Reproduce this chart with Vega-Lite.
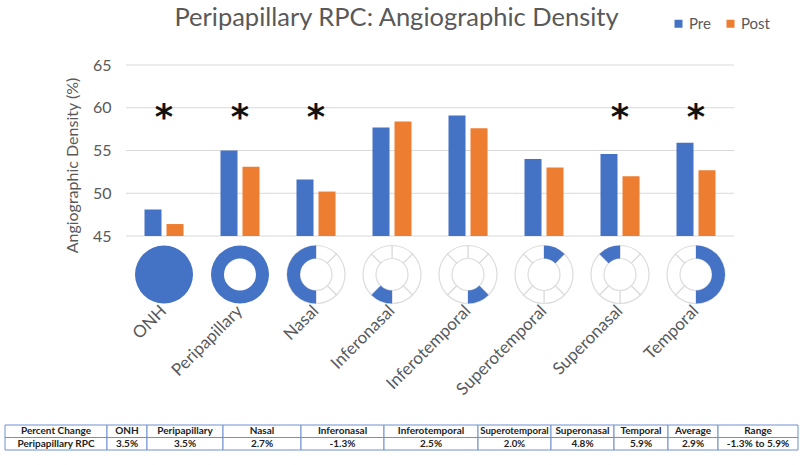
{
  "$schema": "https://vega.github.io/schema/vega-lite/v6.json",
  "background": "white",
  "padding": {"left": 4, "right": 3, "top": 5, "bottom": 4},
  "config": {"view": {"stroke": null}, "font": "Lato", "axis": {"labelFont": "Lato", "titleFont": "Lato"}},
  "title": {"text": "Peripapillary RPC: Angiographic Density", "font": "Lato", "fontSize": 25.5, "fontWeight": "normal", "color": "#595959", "anchor": "middle", "dx": -5, "offset": 0, "dy": 15},
  "datasets": {
    "bars": [
      {"cat": "ONH", "period": "Pre", "value": 48.1}, {"cat": "ONH", "period": "Post", "value": 46.4},
      {"cat": "Peripapillary", "period": "Pre", "value": 55.0}, {"cat": "Peripapillary", "period": "Post", "value": 53.1},
      {"cat": "Nasal", "period": "Pre", "value": 51.6}, {"cat": "Nasal", "period": "Post", "value": 50.2},
      {"cat": "Inferonasal", "period": "Pre", "value": 57.7}, {"cat": "Inferonasal", "period": "Post", "value": 58.4},
      {"cat": "Inferotemporal", "period": "Pre", "value": 59.1}, {"cat": "Inferotemporal", "period": "Post", "value": 57.6},
      {"cat": "Superotemporal", "period": "Pre", "value": 54.0}, {"cat": "Superotemporal", "period": "Post", "value": 53.0},
      {"cat": "Superonasal", "period": "Pre", "value": 54.6}, {"cat": "Superonasal", "period": "Post", "value": 52.0},
      {"cat": "Temporal", "period": "Pre", "value": 55.9}, {"cat": "Temporal", "period": "Post", "value": 52.7}
    ],
    "cats": [
      {"cat": "ONH", "sig": true, "hs": 0, "he": 360},
      {"cat": "Peripapillary", "sig": true, "hs": 0, "he": 360},
      {"cat": "Nasal", "sig": true, "hs": 180, "he": 360},
      {"cat": "Inferonasal", "sig": false, "hs": 180, "he": 225},
      {"cat": "Inferotemporal", "sig": false, "hs": 135, "he": 180},
      {"cat": "Superotemporal", "sig": false, "hs": 0, "he": 45},
      {"cat": "Superonasal", "sig": true, "hs": 315, "he": 360},
      {"cat": "Temporal", "sig": true, "hs": 0, "he": 180}
    ],
    "sectors": [
      {"s": 0, "e": 45, "cats": ["Nasal", "Inferonasal", "Inferotemporal", "Superotemporal", "Superonasal", "Temporal"]},
      {"s": 45, "e": 135, "cats": ["Nasal", "Inferonasal", "Inferotemporal", "Superotemporal", "Superonasal", "Temporal"]},
      {"s": 135, "e": 180, "cats": ["Nasal", "Inferonasal", "Inferotemporal", "Superotemporal", "Superonasal", "Temporal"]},
      {"s": 180, "e": 225, "cats": ["Nasal", "Inferonasal", "Inferotemporal", "Superotemporal", "Superonasal", "Temporal"]},
      {"s": 225, "e": 315, "cats": ["Nasal", "Inferonasal", "Inferotemporal", "Superotemporal", "Superonasal", "Temporal"]},
      {"s": 315, "e": 360, "cats": ["Nasal", "Inferonasal", "Inferotemporal", "Superotemporal", "Superonasal", "Temporal"]}
    ],
    "grid": [{"g": 45}, {"g": 50}, {"g": 55}, {"g": 60}, {"g": 65}],
    "table": [
      {"col": "Percent Change", "val": "Peripapillary RPC"},
      {"col": "ONH", "val": "3.5%"},
      {"col": "Peripapillary", "val": "3.5%"},
      {"col": "Nasal", "val": "2.7%"},
      {"col": "Inferonasal", "val": "-1.3%"},
      {"col": "Inferotemporal", "val": "2.5%"},
      {"col": "Superotemporal", "val": "2.0%"},
      {"col": "Superonasal", "val": "4.8%"},
      {"col": "Temporal", "val": "5.9%"},
      {"col": "Average", "val": "2.9%"},
      {"col": "Range", "val": "-1.3% to 5.9%"}
    ]
  },
  "resolve": {"scale": {"color": "independent"}, "legend": {"color": "independent"}},
  "spacing": 26,
  "vconcat": [
    {
      "width": 729,
      "height": 171,
      "layer": [
        {
          "data": {"name": "grid"},
          "mark": {"type": "rule", "color": "#d9d9d9", "strokeWidth": 1},
          "encoding": {
            "y": {"field": "g", "type": "quantitative"},
            "x": {"datum": "ONH", "type": "nominal", "bandPosition": 0},
            "x2": {"datum": "Temporal", "bandPosition": 1}
          }
        },
        {
          "data": {"name": "bars"},
          "mark": {"type": "bar"},
          "encoding": {
            "x": {
              "field": "cat", "type": "nominal", "sort": null,
              "scale": {"domain": ["ONH", "Peripapillary", "Nasal", "Inferonasal", "Inferotemporal", "Superotemporal", "Superonasal", "Temporal"], "range": [121, 729], "paddingInner": 0, "paddingOuter": 0},
              "axis": {"title": null, "labelAngle": -45, "labelAlign": "right", "labelBaseline": "middle", "labelPadding": 72, "ticks": false, "tickSize": 0, "domain": false, "grid": false, "labelFontSize": 17, "labelColor": "#595959", "labelFont": "Lato"}
            },
            "xOffset": {"field": "period", "type": "nominal", "sort": ["Pre", "Post"], "scale": {"paddingInner": 0.227, "paddingOuter": 0.84}},
            "y": {
              "field": "value", "type": "quantitative",
              "scale": {"domain": [45, 65], "zero": false, "nice": false},
              "axis": {"values": [45, 50, 55, 60, 65], "grid": false, "domain": false, "ticks": false, "offset": -121, "labelPadding": 15, "labelFontSize": 16, "labelColor": "#595959", "labelFont": "Lato", "title": "Angiographic Density (%)", "titleFontSize": 16, "titleFontWeight": "normal", "titleColor": "#595959", "titleFont": "Lato", "titlePadding": 12, "titleY": 100}
            },
            "y2": {"datum": 45},
            "color": {
              "field": "period", "type": "nominal", "sort": ["Pre", "Post"],
              "scale": {"domain": ["Pre", "Post"], "range": ["#4472C4", "#ED7D31"]},
              "legend": {"title": null, "orient": "none", "legendX": 666, "legendY": -49, "direction": "horizontal", "symbolType": "square", "symbolSize": 64, "symbolStrokeWidth": 0, "labelFontSize": 15, "labelColor": "#595959", "labelFont": "Lato", "columnPadding": 12, "labelOffset": 3}
            }
          }
        },
        {
          "data": {"name": "sectors"},
          "transform": [{"flatten": ["cats"], "as": ["cat"]}],
          "mark": {"type": "arc", "radius": 29, "radius2": 16, "fill": "white", "stroke": "#dcdcdc", "strokeWidth": 1.2},
          "encoding": {
            "x": {"field": "cat", "type": "nominal"},
            "y": {"datum": 40.5, "type": "quantitative"},
            "theta": {"field": "s", "type": "quantitative", "stack": null, "scale": {"domain": [0, 360], "range": [0, 6.283185]}},
            "theta2": {"field": "e"}
          }
        },
        {
          "data": {"name": "cats"},
          "transform": [{"filter": "datum.cat !== 'ONH'"}],
          "mark": {"type": "arc", "radius": 29, "radius2": 16, "fill": "#4472C4", "strokeWidth": 0},
          "encoding": {
            "x": {"field": "cat", "type": "nominal"},
            "y": {"datum": 40.5, "type": "quantitative"},
            "theta": {"field": "hs", "type": "quantitative", "stack": null},
            "theta2": {"field": "he"}
          }
        },
        {
          "data": {"name": "cats"},
          "transform": [{"filter": "datum.cat === 'ONH'"}],
          "mark": {"type": "arc", "radius": 29, "radius2": 0, "fill": "#4472C4", "strokeWidth": 0},
          "encoding": {
            "x": {"field": "cat", "type": "nominal"},
            "y": {"datum": 40.5, "type": "quantitative"},
            "theta": {"field": "hs", "type": "quantitative", "stack": null},
            "theta2": {"field": "he"}
          }
        },
        {
          "data": {"name": "cats"},
          "transform": [{"filter": "datum.sig"}],
          "mark": {"type": "text", "text": "*", "font": "DejaVu Sans", "fontWeight": "bold", "fontSize": 35, "baseline": "middle", "color": "#111111"},
          "encoding": {
            "x": {"field": "cat", "type": "nominal"},
            "y": {"datum": 58.8, "type": "quantitative"}
          }
        }
      ]
    },
    {
      "spacing": 0,
      "bounds": "flush",
      "hconcat": [
        {"width": 102, "height": 25, "data": {"name": "table"}, "transform": [{"filter": "datum.col === 'Percent Change'"}, {"fold": ["col", "val"]}],
         "layer": [
          {"mark": {"type": "rect", "fill": "white", "stroke": "#6F8FCF", "strokeWidth": 1}, "encoding": {"y": {"field": "key", "type": "nominal", "axis": null, "scale": {"paddingInner": 0, "paddingOuter": 0}}}},
          {"mark": {"type": "text", "font": "Lato", "fontWeight": "bold", "fontSize": 10, "color": "#222222"}, "encoding": {"y": {"field": "key", "type": "nominal", "axis": null}, "text": {"field": "value"}}}
         ]},
        {"width": 40, "height": 25, "data": {"name": "table"}, "transform": [{"filter": "datum.col === 'ONH'"}, {"fold": ["col", "val"]}],
         "layer": [
          {"mark": {"type": "rect", "fill": "white", "stroke": "#6F8FCF", "strokeWidth": 1}, "encoding": {"y": {"field": "key", "type": "nominal", "axis": null, "scale": {"paddingInner": 0, "paddingOuter": 0}}}},
          {"mark": {"type": "text", "font": "Lato", "fontWeight": "bold", "fontSize": 10, "color": "#222222"}, "encoding": {"y": {"field": "key", "type": "nominal", "axis": null}, "text": {"field": "value"}}}
         ]},
        {"width": 76, "height": 25, "data": {"name": "table"}, "transform": [{"filter": "datum.col === 'Peripapillary'"}, {"fold": ["col", "val"]}],
         "layer": [
          {"mark": {"type": "rect", "fill": "white", "stroke": "#6F8FCF", "strokeWidth": 1}, "encoding": {"y": {"field": "key", "type": "nominal", "axis": null, "scale": {"paddingInner": 0, "paddingOuter": 0}}}},
          {"mark": {"type": "text", "font": "Lato", "fontWeight": "bold", "fontSize": 10, "color": "#222222"}, "encoding": {"y": {"field": "key", "type": "nominal", "axis": null}, "text": {"field": "value"}}}
         ]},
        {"width": 78, "height": 25, "data": {"name": "table"}, "transform": [{"filter": "datum.col === 'Nasal'"}, {"fold": ["col", "val"]}],
         "layer": [
          {"mark": {"type": "rect", "fill": "white", "stroke": "#6F8FCF", "strokeWidth": 1}, "encoding": {"y": {"field": "key", "type": "nominal", "axis": null, "scale": {"paddingInner": 0, "paddingOuter": 0}}}},
          {"mark": {"type": "text", "font": "Lato", "fontWeight": "bold", "fontSize": 10, "color": "#222222"}, "encoding": {"y": {"field": "key", "type": "nominal", "axis": null}, "text": {"field": "value"}}}
         ]},
        {"width": 83, "height": 25, "data": {"name": "table"}, "transform": [{"filter": "datum.col === 'Inferonasal'"}, {"fold": ["col", "val"]}],
         "layer": [
          {"mark": {"type": "rect", "fill": "white", "stroke": "#6F8FCF", "strokeWidth": 1}, "encoding": {"y": {"field": "key", "type": "nominal", "axis": null, "scale": {"paddingInner": 0, "paddingOuter": 0}}}},
          {"mark": {"type": "text", "font": "Lato", "fontWeight": "bold", "fontSize": 10, "color": "#222222"}, "encoding": {"y": {"field": "key", "type": "nominal", "axis": null}, "text": {"field": "value"}}}
         ]},
        {"width": 94, "height": 25, "data": {"name": "table"}, "transform": [{"filter": "datum.col === 'Inferotemporal'"}, {"fold": ["col", "val"]}],
         "layer": [
          {"mark": {"type": "rect", "fill": "white", "stroke": "#6F8FCF", "strokeWidth": 1}, "encoding": {"y": {"field": "key", "type": "nominal", "axis": null, "scale": {"paddingInner": 0, "paddingOuter": 0}}}},
          {"mark": {"type": "text", "font": "Lato", "fontWeight": "bold", "fontSize": 10, "color": "#222222"}, "encoding": {"y": {"field": "key", "type": "nominal", "axis": null}, "text": {"field": "value"}}}
         ]},
        {"width": 73, "height": 25, "data": {"name": "table"}, "transform": [{"filter": "datum.col === 'Superotemporal'"}, {"fold": ["col", "val"]}],
         "layer": [
          {"mark": {"type": "rect", "fill": "white", "stroke": "#6F8FCF", "strokeWidth": 1}, "encoding": {"y": {"field": "key", "type": "nominal", "axis": null, "scale": {"paddingInner": 0, "paddingOuter": 0}}}},
          {"mark": {"type": "text", "font": "Lato", "fontWeight": "bold", "fontSize": 9.6, "color": "#222222"}, "encoding": {"y": {"field": "key", "type": "nominal", "axis": null}, "text": {"field": "value"}}}
         ]},
        {"width": 63, "height": 25, "data": {"name": "table"}, "transform": [{"filter": "datum.col === 'Superonasal'"}, {"fold": ["col", "val"]}],
         "layer": [
          {"mark": {"type": "rect", "fill": "white", "stroke": "#6F8FCF", "strokeWidth": 1}, "encoding": {"y": {"field": "key", "type": "nominal", "axis": null, "scale": {"paddingInner": 0, "paddingOuter": 0}}}},
          {"mark": {"type": "text", "font": "Lato", "fontWeight": "bold", "fontSize": 10, "color": "#222222"}, "encoding": {"y": {"field": "key", "type": "nominal", "axis": null}, "text": {"field": "value"}}}
         ]},
        {"width": 54, "height": 25, "data": {"name": "table"}, "transform": [{"filter": "datum.col === 'Temporal'"}, {"fold": ["col", "val"]}],
         "layer": [
          {"mark": {"type": "rect", "fill": "white", "stroke": "#6F8FCF", "strokeWidth": 1}, "encoding": {"y": {"field": "key", "type": "nominal", "axis": null, "scale": {"paddingInner": 0, "paddingOuter": 0}}}},
          {"mark": {"type": "text", "font": "Lato", "fontWeight": "bold", "fontSize": 10, "color": "#222222"}, "encoding": {"y": {"field": "key", "type": "nominal", "axis": null}, "text": {"field": "value"}}}
         ]},
        {"width": 50, "height": 25, "data": {"name": "table"}, "transform": [{"filter": "datum.col === 'Average'"}, {"fold": ["col", "val"]}],
         "layer": [
          {"mark": {"type": "rect", "fill": "white", "stroke": "#6F8FCF", "strokeWidth": 1}, "encoding": {"y": {"field": "key", "type": "nominal", "axis": null, "scale": {"paddingInner": 0, "paddingOuter": 0}}}},
          {"mark": {"type": "text", "font": "Lato", "fontWeight": "bold", "fontSize": 10, "color": "#222222"}, "encoding": {"y": {"field": "key", "type": "nominal", "axis": null}, "text": {"field": "value"}}}
         ]},
        {"width": 80, "height": 25, "data": {"name": "table"}, "transform": [{"filter": "datum.col === 'Range'"}, {"fold": ["col", "val"]}],
         "layer": [
          {"mark": {"type": "rect", "fill": "white", "stroke": "#6F8FCF", "strokeWidth": 1}, "encoding": {"y": {"field": "key", "type": "nominal", "axis": null, "scale": {"paddingInner": 0, "paddingOuter": 0}}}},
          {"mark": {"type": "text", "font": "Lato", "fontWeight": "bold", "fontSize": 10, "color": "#222222"}, "encoding": {"y": {"field": "key", "type": "nominal", "axis": null}, "text": {"field": "value"}}}
         ]}
      ]
    }
  ]
}
